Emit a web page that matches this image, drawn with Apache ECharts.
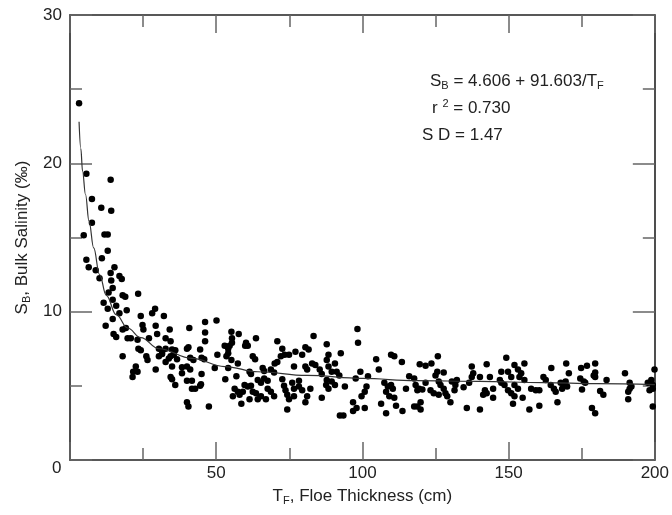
<!DOCTYPE html>
<html>
<head>
<meta charset="utf-8">
<script src="https://cdn.jsdelivr.net/npm/echarts@6/dist/echarts.min.js"></script>
<style>
html,body{margin:0;padding:0;background:#fff;}
#chart{width:672px;height:515px;}
</style>
</head>
<body>
<div id="chart"></div>
<script>
// ---- Data: [thickness (cm), bulk salinity (‰)] ----
const samplesThin = [
[3.1,24.05],[5.6,19.3],[13.9,18.9],[7.5,17.6],[10.7,17.0],[14.1,16.8],[7.5,16.0],[4.7,15.15],[11.8,15.2],[12.9,15.2],
[12.9,14.1],[10.9,13.6],[5.6,13.5],[6.4,13.0],[8.8,12.8],[15.2,13.0],[13.9,12.6],[10.1,12.25],[16.9,12.4],[17.7,12.2],
[14.1,12.1],[14.6,11.6],[13.2,11.3],[18.0,11.1],[18.9,11.0],[23.3,11.2],[11.5,10.6],[14.6,10.8],[15.8,10.4],[12.9,10.2],
[19.4,10.1],[16.9,9.9],[24.2,9.7],[29.1,10.2],[28.1,9.9],[32.1,9.7],[14.6,9.5],[24.8,9.1],[25.1,8.8],[12.2,9.05],
[18.0,8.8],[19.1,8.9],[29.3,9.05],[29.8,8.5],[34.1,8.8],[14.9,8.5],[15.8,8.3],[19.7,8.2],[20.8,8.2],[23.1,8.1],
[27.0,8.2],[32.7,8.2],[34.4,8.0],
[18.0,7.0],[22.5,6.3],[21.6,5.95],[21.4,5.6],[23.1,5.95],[26.5,6.75],[26.1,7.0],[29.3,6.1],[23.4,7.5],[24.2,7.4],
[30.4,7.5],[31.5,7.3],[32.7,7.5],[30.4,7.0],[31.5,7.15],[33.8,6.85],[32.7,6.6]
];
const samplesMid = [
[40.8,8.9],[46.2,9.3],[50.1,9.4],[46.2,8.6],[46.2,8.0],[55.2,8.65],[57.7,8.5],[55.4,8.2],[55.4,7.9],[60.2,7.9],
[60.8,7.7],[63.6,8.2],[70.9,8.0],[72.6,7.5],[77.1,7.3],[34.9,7.45],[36.0,7.4],[40.0,7.5],[40.5,7.6],[44.5,7.45],
[52.9,7.7],[54.1,7.5],[54.6,7.7],[59.9,7.7],[34.4,7.0],[35.5,7.1],[36.6,6.8],[41.1,6.9],[42.2,6.75],[45.0,6.9],
[45.9,6.8],[50.4,7.1],[53.5,7.0],[54.1,7.2],[55.2,6.75],[57.4,6.5],[62.5,7.0],[63.3,6.8],[72.1,7.0],[73.4,7.1],
[74.9,7.1],[70.0,6.5],[70.9,6.6],[76.6,6.3],[34.9,6.3],[38.3,6.25],[40.0,6.3],[41.1,6.1],[49.5,6.2],[54.1,6.2],
[61.4,5.95],[61.9,5.8],[65.9,6.2],[66.4,6.0],[68.7,6.1],[34.4,5.6],[34.9,5.45],[36.0,5.05],[38.3,5.85],[40.0,5.35],
[41.7,5.35],[41.7,4.8],[42.8,4.8],[45.0,5.8],[44.8,5.1],[44.5,5.0],[53.1,5.45],[56.9,5.65],[56.3,4.8],[57.4,4.6],
[58.0,4.4],[55.7,4.3],[59.7,5.05],[60.8,4.95],[61.9,5.0],[59.1,4.6],[62.5,4.6],[63.6,4.5],[58.6,3.8],[61.4,4.1],
[64.2,4.1],[65.3,4.3],[67.0,4.1],[64.2,5.4],[65.3,5.2],[66.4,5.5],[67.6,5.35],[67.6,4.8],[68.7,4.6],[69.8,4.3],
[73.2,5.0],[73.7,4.7],[74.3,4.4],[74.9,4.1],[72.6,5.45],[76.0,5.2],[76.6,4.8],[76.6,4.3],[74.3,3.4],[40.0,3.9],
[40.5,3.6],[47.5,3.6],[69.8,5.9]
];
const samplesCentre = [
[83.3,8.36],[98.3,8.83],[98.5,7.9],[80.5,7.6],[81.6,7.45],[87.8,7.8],[79.4,7.1],[92.6,7.2],[88.4,7.1],[87.8,6.75],
[104.7,6.8],[109.8,7.1],[110.9,7.0],[113.5,6.6],[105.6,6.1],[82.8,6.5],[83.9,6.4],[80.5,6.3],[81.1,6.1],[85.4,6.1],
[86.1,5.8],[90.6,6.5],[88.4,6.3],[89.5,5.95],[91.2,5.95],[92.1,5.7],[99.3,5.95],[101.9,5.65],[97.7,5.5],[94.0,4.95],
[87.8,5.4],[87.6,5.05],[88.4,4.8],[89.5,5.3],[90.6,5.05],[101.4,4.95],[100.8,4.6],[99.7,4.3],[96.8,3.9],[98.0,3.5],
[96.8,3.3],[92.3,3.0],[93.5,3.0],[100.8,3.5],[107.5,5.2],[108.7,4.95],[109.8,5.05],[110.4,4.8],[108.1,4.6],[109.2,4.3],
[110.9,4.2],[111.5,3.65],[106.4,3.8],[108.1,3.15],[113.7,3.3],[114.9,4.8],[117.7,5.5],[117.7,3.6],[86.1,4.2],[80.5,3.9],
[81.1,4.3],[78.3,4.95],[79.4,4.7],[82.2,4.8],[78.3,5.35]
];
const samplesThick = [
[125.8,7.0],[119.6,6.45],[121.6,6.35],[123.6,6.5],[125.6,5.95],[127.8,5.9],[125.0,5.7],[116.0,5.65],[118.2,5.05],[119.4,4.8],
[118.8,4.7],[120.5,4.75],[121.6,5.2],[123.3,4.7],[124.4,4.5],[126.1,5.3],[126.7,5.05],[127.8,4.8],[128.4,4.5],[129.0,4.3],
[130.1,3.9],[126.1,4.4],[119.9,3.9],[118.8,3.6],[119.9,3.4],[130.6,5.3],[132.3,5.4],[131.8,5.05],[131.5,4.7],[134.6,4.9],
[135.7,3.5],[136.5,5.2],[137.4,6.3],[137.9,5.85],[137.4,5.6],[140.2,5.6],[140.2,3.4],[142.5,6.45],[143.6,5.6],[141.9,4.7],
[142.5,4.5],[141.3,4.4],[144.7,4.8],[144.7,4.2],[147.5,5.95],[147.0,5.4],[147.5,5.2],[148.6,5.05],[149.2,6.9],[149.8,5.95],
[150.9,5.6],[149.8,4.7],[150.9,4.5],[152.0,6.4],[153.2,6.1],[154.3,5.85],[153.7,5.6],[155.4,6.5],[155.4,5.4],[152.0,5.05],
[153.2,4.8],[152.0,4.3],[151.5,3.8],[154.8,4.2],[157.1,3.4]
];
const samplesThickest = [
[164.6,6.2],[169.7,6.5],[170.6,5.85],[174.8,6.2],[176.8,6.35],[179.6,6.5],[179.6,5.9],[179.6,5.6],[179.1,5.7],[161.9,5.6],
[162.7,5.4],[164.4,5.05],[165.5,4.8],[166.1,4.6],[167.8,5.2],[168.9,5.05],[169.5,5.3],[170.0,4.95],[168.3,4.8],[157.7,4.8],
[159.3,4.7],[160.5,4.7],[174.5,5.5],[175.7,5.3],[176.2,5.2],[175.1,4.75],[181.3,4.65],[182.4,4.4],[183.5,5.4],[189.8,5.85],
[191.4,5.2],[192.0,4.95],[190.9,4.6],[191.4,4.8],[190.9,4.1],[166.7,3.9],[160.5,3.65],[178.5,3.5],[179.6,3.15],[197.6,5.2],
[198.8,5.4],[199.3,5.05],[199.3,4.8],[198.2,4.7],[199.9,6.1],[199.3,3.6]
];
// Fitted curve as drawn in the picture
const fitThickness = [3.1,3.7,4.3,5.3,6.5,8.1,10.1,12.4,15.8,19.7,24.2,30.4,41.7,52.9,64.2,81.1,100,118.2,140,162,180,200];
const fitSalinity  = [22.8,21.0,19.45,17.9,16.1,14.3,12.5,11.1,9.8,8.9,8.25,7.5,6.85,6.3,5.95,5.7,5.5,5.35,5.3,5.22,5.15,5.08];

const xTickLabels = ['0','50','100','150','200'];
const yTickLabels = ['0','10','20','30'];

const FONT = '"Liberation Sans", Arial, Helvetica, sans-serif';
const TXT = '#222';

const allSamples = [].concat(samplesThin, samplesMid, samplesCentre, samplesThick, samplesThickest);
const fitLine = fitThickness.map((t, i) => [t, fitSalinity[i]]);

const richMain = {
  i: {fontSize: 17, fontWeight: 'normal', fontFamily: FONT, color: TXT, lineHeight: 20},
  s: {fontSize: 11, fontWeight: 'normal', fontFamily: FONT, color: TXT, lineHeight: 11, verticalAlign: 'bottom'},
  p: {fontSize: 11, fontWeight: 'normal', fontFamily: FONT, color: TXT, lineHeight: 11, verticalAlign: 'top'}
};

function axisCommon(extra) {
  return Object.assign({
    type: 'value',
    axisLine: {show: true, onZero: false, lineStyle: {color: '#222', width: 1.6}},
    splitLine: {show: false},
    minorSplitLine: {show: false}
  }, extra);
}

const xFmt = v => (v === 0 ? '' : xTickLabels[Math.round(v / 50)]);
const yFmt = v => (v === 0 ? '' : yTickLabels[Math.round(v / 10)]);

const option = {
  animation: false,
  backgroundColor: '#fff',
  grid: {left: 70, top: 15, right: 10, bottom: 55},
  title: [
    {text: '{i|S}{s|B}{i| = 4.606 + 91.603/T}{s|F}', left: 425, top: 66, textStyle: {fontWeight: 'normal', rich: richMain}},
    {text: '{i|r }{p|2}{i| = 0.730}', left: 427, top: 93, textStyle: {fontWeight: 'normal', rich: richMain}},
    {text: '{i|S D = 1.47}', left: 417, top: 120, textStyle: {fontWeight: 'normal', rich: richMain}}
  ],
  graphic: [
    {type: 'text', left: 52, top: 460, style: {text: '0', fontSize: 17, fontFamily: FONT, fill: TXT}}
  ],
  xAxis: [
    axisCommon({
      min: 0, max: 200, interval: 50, position: 'bottom',
      axisTick: {show: true, inside: true, length: 18, lineStyle: {color: '#666', width: 1.5}},
      minorTick: {show: true, splitNumber: 2, length: 12, lineStyle: {color: '#666', width: 1.5}},
      axisLabel: {formatter: xFmt, fontSize: 17, fontFamily: FONT, color: TXT, margin: 5},
      name: '{i|T}{s|F}{i|, Floe Thickness (cm)}',
      nameLocation: 'middle', nameGap: 26,
      nameTextStyle: {rich: richMain}
    }),
    axisCommon({
      min: 0, max: 200, interval: 50, position: 'top',
      axisTick: {show: true, inside: true, length: 18, lineStyle: {color: '#666', width: 1.5}},
      minorTick: {show: true, splitNumber: 2, length: 12, lineStyle: {color: '#666', width: 1.5}},
      axisLabel: {show: false}
    })
  ],
  yAxis: [
    axisCommon({
      min: 0, max: 30, interval: 10, position: 'left',
      axisTick: {show: true, inside: true, length: 22, lineStyle: {color: '#666', width: 1.5}},
      minorTick: {show: true, splitNumber: 2, length: 12, lineStyle: {color: '#666', width: 1.5}},
      axisLabel: {formatter: yFmt, fontSize: 17, fontFamily: FONT, color: TXT, margin: 8},
      name: '{i|S}{s|B}{i|, Bulk Salinity (‰)}',
      nameLocation: 'middle', nameGap: 36,
      nameTextStyle: {rich: richMain}
    }),
    axisCommon({
      min: 0, max: 30, interval: 10, position: 'right',
      axisTick: {show: true, inside: true, length: 22, lineStyle: {color: '#666', width: 1.5}},
      minorTick: {show: true, splitNumber: 2, length: 12, lineStyle: {color: '#666', width: 1.5}},
      axisLabel: {show: false}
    })
  ],
  series: [
    {
      type: 'scatter', xAxisIndex: 0, yAxisIndex: 0,
      data: allSamples, symbol: 'circle', symbolSize: 6.5,
      itemStyle: {color: '#000', opacity: 1}, silent: true
    },
    {
      type: 'line', xAxisIndex: 0, yAxisIndex: 0,
      data: fitLine, showSymbol: false, smooth: 0.4, smoothMonotone: 'x',
      lineStyle: {color: '#333', width: 1.2}, silent: true, z: 3
    }
  ]
};

const chart = echarts.init(document.getElementById('chart'), null, {renderer: 'canvas'});
chart.setOption(option);
</script>
</body>
</html>
